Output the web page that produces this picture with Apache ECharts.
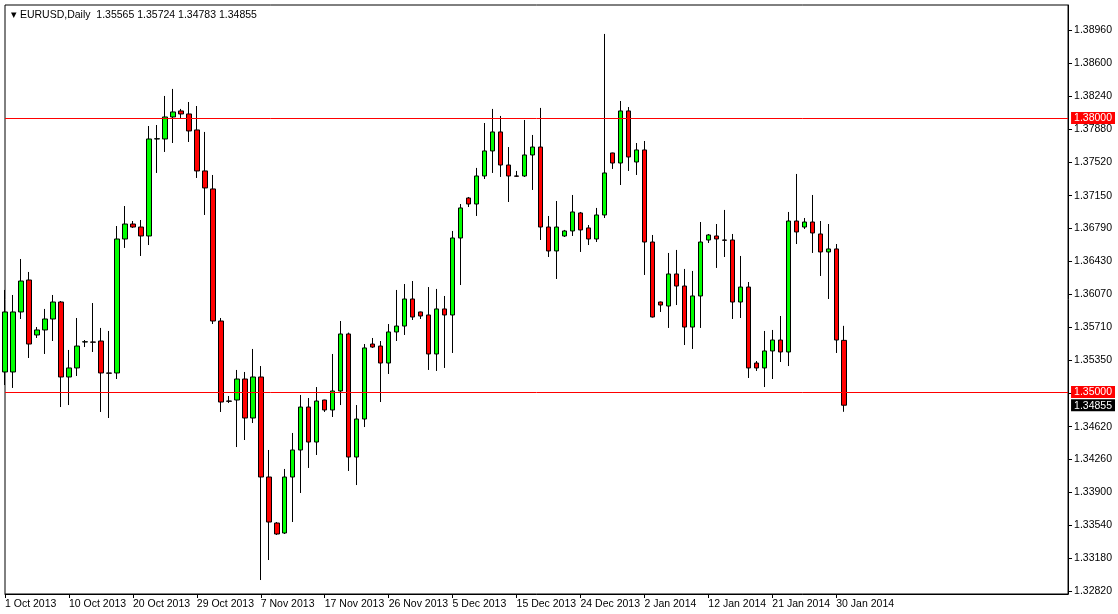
<!DOCTYPE html>
<html>
<head>
<meta charset="utf-8">
<script src="https://cdn.jsdelivr.net/npm/echarts@6/dist/echarts.min.js"></script>
<style>
html,body{margin:0;padding:0;background:#fff;}
#main{width:1118px;height:614px;}
</style>
</head>
<body>
<div id="main"></div>
<script>
// open, close, low, high
var opens  = [1.35219,1.35219,1.35876,1.36226,1.35624,1.35679,1.35799,1.35985,1.35164,1.35263,
              1.35547,1.35547,1.35558,1.35208,1.35208,1.36675,1.36839,1.36806,1.36708,1.37770,
              1.37770,1.38011,1.38077,1.38044,1.37869,1.37420,1.37223,1.35777,1.34901,1.34912,
              1.35142,1.34715,1.35164,1.34069,1.33565,1.33456,1.34069,1.34365,1.34835,1.34452,
              1.34912,1.34803,1.35011,1.35635,1.34288,1.34704,1.35525,1.35503,1.35317,1.35657,
              1.35722,1.36018,1.35876,1.35843,1.35416,1.35909,1.35843,1.36686,1.37124,1.37058,
              1.37365,1.37639,1.37847,1.37485,1.37365,1.37365,1.37595,1.37682,1.36806,1.36544,
              1.36708,1.36763,1.36960,1.36796,1.36675,1.36938,1.37617,1.37507,1.38077,1.37518,
              1.37650,1.36642,1.35985,1.35941,1.36292,1.36160,1.35711,1.36051,1.36664,1.36708,
              1.36664,1.36664,1.35985,1.36149,1.35317,1.35263,1.35449,1.35569,1.35438,1.36872,
              1.36806,1.36861,1.36730,1.36533,1.36566,1.35565];
var closes = [1.35876,1.35876,1.36215,1.35525,1.35679,1.35799,1.35985,1.35164,1.35263,1.35503,
              1.35550,1.35545,1.35208,1.35205,1.36675,1.36839,1.36806,1.36708,1.37770,1.37773,
              1.38011,1.38066,1.38044,1.37858,1.37420,1.37234,1.35777,1.34890,1.34898,1.35142,
              1.34715,1.35164,1.34069,1.33576,1.33445,1.34069,1.34365,1.34835,1.34452,1.34901,
              1.34803,1.35011,1.35635,1.34288,1.34704,1.35482,1.35492,1.35317,1.35657,1.35722,
              1.36018,1.35821,1.35832,1.35416,1.35909,1.35843,1.36686,1.37015,1.37058,1.37365,
              1.37639,1.37847,1.37485,1.37365,1.37362,1.37595,1.37682,1.36806,1.36544,1.36806,
              1.36763,1.36971,1.36774,1.36675,1.36938,1.37398,1.37507,1.38077,1.37573,1.37650,
              1.36642,1.35821,1.35952,1.36292,1.36160,1.35711,1.36051,1.36642,1.36719,1.36675,
              1.36661,1.35985,1.36149,1.35263,1.35263,1.35449,1.35569,1.35438,1.36872,1.36752,
              1.36861,1.36741,1.36533,1.36566,1.35569,1.34855];
var lows   = [1.35076,1.35044,1.35799,1.35372,1.35591,1.35416,1.35558,1.34835,1.34857,1.35175,
              1.35492,1.35438,1.34781,1.34715,1.35142,1.36577,1.36796,1.36489,1.36609,1.37398,
              1.37628,1.37726,1.38000,1.37737,1.37343,1.36938,1.35744,1.34781,1.34879,1.34397,
              1.34474,1.34660,1.32941,1.33160,1.33434,1.33445,1.33576,1.33894,1.34168,1.34310,
              1.34781,1.34726,1.34857,1.34135,1.33981,1.34616,1.35482,1.34890,1.35197,1.35558,
              1.35624,1.35788,1.35799,1.35241,1.35230,1.35263,1.35427,1.36171,1.37025,1.36927,
              1.37332,1.37398,1.37354,1.37080,1.37354,1.37354,1.37212,1.36664,1.36478,1.36237,
              1.36697,1.36708,1.36533,1.36609,1.36642,1.36905,1.37442,1.37266,1.37420,1.37376,
              1.36281,1.35815,1.35876,1.35701,1.35952,1.35514,1.35471,1.35701,1.36631,1.36358,
              1.36478,1.35799,1.35810,1.35153,1.35230,1.35054,1.35142,1.35328,1.35284,1.36620,
              1.36785,1.36522,1.36270,1.36018,1.35427,1.34783];
var highs  = [1.36117,1.36062,1.36456,1.36314,1.35711,1.35909,1.36062,1.35996,1.35460,1.35810,
              1.35569,1.35974,1.35701,1.35668,1.36817,1.37036,1.36872,1.36883,1.37912,1.37923,
              1.38241,1.38318,1.38099,1.38175,1.38131,1.37847,1.37376,1.35810,1.34956,1.35241,
              1.35219,1.35471,1.35284,1.34365,1.33576,1.34157,1.34551,1.34967,1.34934,1.35054,
              1.34915,1.35416,1.35777,1.35650,1.34857,1.35525,1.35591,1.35558,1.35744,1.36117,
              1.36182,1.36215,1.35880,1.36149,1.36128,1.36051,1.36763,1.37058,1.37135,1.37453,
              1.37945,1.38099,1.38022,1.37682,1.37420,1.37978,1.37814,1.38110,1.36927,1.37091,
              1.36774,1.37157,1.36971,1.36828,1.37015,1.38920,1.37620,1.38186,1.38120,1.37726,
              1.37748,1.36719,1.35990,1.36522,1.36555,1.36347,1.36325,1.36861,1.36730,1.36839,
              1.36993,1.36730,1.36489,1.36204,1.35339,1.35668,1.35679,1.35832,1.36971,1.37387,
              1.36905,1.37157,1.36872,1.36839,1.36620,1.35724];

var dateLabels = ['1 Oct 2013','10 Oct 2013','20 Oct 2013','29 Oct 2013','7 Nov 2013','17 Nov 2013','26 Nov 2013',
                  '5 Dec 2013','15 Dec 2013','24 Dec 2013','2 Jan 2014','12 Jan 2014','21 Jan 2014','30 Jan 2014'];
var priceTicks = [1.32820,1.33180,1.33540,1.33900,1.34260,1.34620,1.34990,1.35350,1.35710,1.36070,
                  1.36430,1.36790,1.37150,1.37520,1.37880,1.38240,1.38600,1.38960];
var levels = [1.38000, 1.35000];
var lastPrice = 1.34855;

var slots = 134;
var cats = [];
for (var i = 0; i < slots; i++) cats.push(i);
var candles = [];
for (var j = 0; j < opens.length; j++) candles.push([opens[j], closes[j], lows[j], highs[j]]);
// the 1.34990 label sits under the 1.35000 tag
var shownTicks = priceTicks.filter(function (v) { return v !== 1.34990; });

var chart = echarts.init(document.getElementById('main'));
var font = 'Liberation Sans';
var fs = 10.5;
var yMin = 1.32788, yMax = 1.39237;
chart.setOption({
    animation: false,
    backgroundColor: '#fff',
    title: {
        text: '\u25BE EURUSD,Daily  1.35565 1.35724 1.34783 1.34855',
        left: 6, top: 5,
        textStyle: {fontSize: fs, fontWeight: 'normal', color: '#000', fontFamily: font}
    },
    grid: {left: 5, right: 46, top: 5, bottom: 20, show: true, borderColor: '#000', borderWidth: 1},
    xAxis: {
        type: 'category',
        data: cats,
        boundaryGap: false,
        axisLine: {lineStyle: {color: '#000'}},
        axisTick: {
            show: true, length: 4, lineStyle: {color: '#000'},
            interval: function (idx) { return idx % 8 === 0 && idx / 8 < dateLabels.length; }
        },
        axisLabel: {
            interval: 0, align: 'left', margin: 5, fontSize: fs, color: '#000', fontFamily: font,
            formatter: function (v, idx) {
                return (idx % 8 === 0 && idx / 8 < dateLabels.length) ? dateLabels[idx / 8] : '';
            }
        },
        splitLine: {show: false}
    },
    yAxis: [{
        type: 'value',
        position: 'right',
        min: yMin,
        max: yMax,
        axisLine: {show: true, lineStyle: {color: '#000'}},
        axisTick: {show: true, length: 4, inside: false, customValues: priceTicks, lineStyle: {color: '#000'}},
        axisLabel: {
            customValues: shownTicks, margin: 6, fontSize: fs, color: '#000', fontFamily: font,
            formatter: function (v) { return v.toFixed(5); }
        },
        splitLine: {show: false}
    }, {
        type: 'value',
        position: 'right',
        min: yMin,
        max: yMax,
        z: 10,
        axisLine: {show: false},
        axisTick: {show: false},
        splitLine: {show: false},
        axisLabel: {
            customValues: [levels[0], levels[1], lastPrice], margin: 3, hideOverlap: false,
            formatter: function (v) {
                return v === lastPrice ? '{k|' + v.toFixed(5) + '}' : '{r|' + v.toFixed(5) + '}';
            },
            rich: {
                r: {backgroundColor: '#ff0000', color: '#fff', fontSize: fs, fontFamily: font, padding: [1, 3, 0, 3], lineHeight: 12},
                k: {backgroundColor: '#000', color: '#fff', fontSize: fs, fontFamily: font, padding: [1, 3, 0, 3], lineHeight: 12}
            }
        }
    }],
    series: [{
        type: 'candlestick',
        data: candles,
        barWidth: 5,
        clip: true,
        itemStyle: {color: '#00ff00', color0: '#ff0000', borderColor: '#000', borderColor0: '#000', borderWidth: 1},
        markLine: {
            symbol: 'none',
            silent: true,
            label: {show: false},
            lineStyle: {color: '#ff0000', width: 1, type: 'solid'},
            data: [{yAxis: levels[0]}, {yAxis: levels[1]}]
        }
    }]
});
</script>
</body>
</html>
